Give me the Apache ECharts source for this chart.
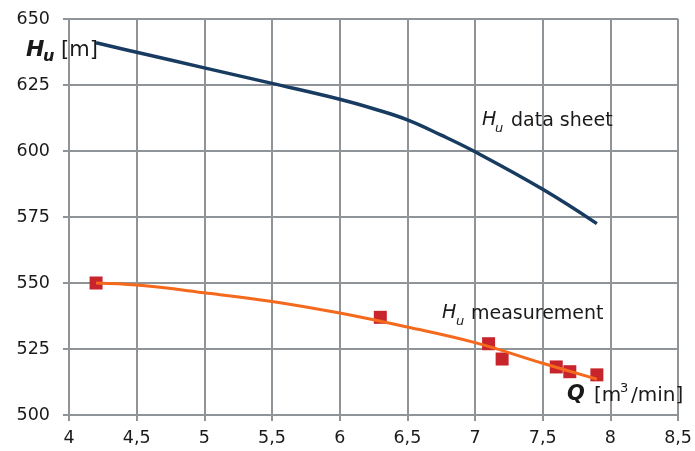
<!DOCTYPE html>
<html>
<head>
<meta charset="utf-8">
<script src="https://cdn.jsdelivr.net/npm/echarts@6/dist/echarts.min.js"></script>
<style>
  html, body { margin: 0; padding: 0; background: #fff; }
  #chart { width: 695px; height: 451px; }
</style>
</head>
<body>
<div id="chart"></div>
<script>
// datasheet curve H_u(Q)
const sheetQ = [4.2, 4.5, 5, 5.5, 6, 6.25, 6.5, 6.75, 7, 7.5, 7.9]
const sheetH = [641, 637.4, 631.5, 625.6, 619.6, 616, 611.8, 606, 599.7, 585.5, 572.5]

// measured points
const measQ = [4.2, 6.3, 7.1, 7.2, 7.6, 7.7, 7.9]
const measH = [550, 537, 527, 521.2, 518.2, 516.4, 515.2]

// trend line through the measurements
const trendQ = [4.2, 4.5, 5, 5.5, 6, 6.5, 7, 7.5, 7.9]
const trendH = [550, 549.2, 546.3, 543, 538.6, 533.3, 527.4, 519.6, 513.6]

const gridColor = '#8f9499'
const textColor = '#1a1a1a'
const font = 'DejaVu Sans'

const chart = echarts.init(document.getElementById('chart'))

function zip(xs, ys) {
  return xs.map((x, i) => [x, ys[i]])
}

function label(x, y, text, size, opts) {
  return {
    type: 'text',
    x: x,
    y: y,
    z: 100,
    style: Object.assign({
      text: text,
      fontFamily: font,
      fontSize: size,
      fill: textColor,
      align: 'left',
      verticalAlign: 'middle'
    }, opts || {})
  }
}

const option = {
  animation: false,
  backgroundColor: '#fff',
  grid: { left: 69, right: 14, top: 19, bottom: 36 },
  xAxis: {
    type: 'value',
    min: 4,
    max: 8.5,
    interval: 0.5,
    axisLine: { show: true, lineStyle: { color: gridColor, width: 2 } },
    axisTick: { show: true, length: 6, lineStyle: { color: gridColor, width: 2 } },
    splitLine: { show: true, lineStyle: { color: gridColor, width: 2 } },
    axisLabel: {
      margin: 14,
      color: textColor,
      fontFamily: font,
      fontSize: 17.5,
      formatter: v => String(v).replace('.', ',')
    }
  },
  yAxis: {
    type: 'value',
    min: 500,
    max: 650,
    interval: 25,
    axisLine: { show: true, lineStyle: { color: gridColor, width: 2 } },
    axisTick: { show: true, length: 6, lineStyle: { color: gridColor, width: 2 } },
    splitLine: { show: true, lineStyle: { color: gridColor, width: 2 } },
    axisLabel: {
      margin: 19,
      color: textColor,
      fontFamily: font,
      fontSize: 17.5
    }
  },
  series: [
    {
      name: 'Hu data sheet',
      type: 'line',
      data: zip(sheetQ, sheetH),
      smooth: 0.4,
      showSymbol: false,
      lineStyle: { color: '#183b61', width: 3.5 },
      z: 3
    },
    {
      name: 'Hu measurement',
      type: 'scatter',
      data: zip(measQ, measH),
      symbol: 'rect',
      symbolSize: 13,
      itemStyle: { color: '#c8242c', opacity: 1 },
      z: 2
    },
    {
      name: 'trend',
      type: 'line',
      data: zip(trendQ, trendH),
      smooth: 0.4,
      showSymbol: false,
      lineStyle: { color: '#f5691c', width: 3 },
      z: 4
    }
  ],
  graphic: [
    // y axis title
    label(26, 50, 'H', 22, { fontWeight: 'bold', fontStyle: 'italic' }),
    label(43, 57, 'u', 16, { fontWeight: 'bold', fontStyle: 'italic' }),
    label(61, 51, '[m]', 21),
    // x axis title
    label(567, 395, 'Q', 21, { fontWeight: 'bold', fontStyle: 'italic' }),
    label(594, 396, '[m', 20),
    label(620, 389, '3', 13),
    label(631, 396, '/min]', 20),
    // series labels
    label(482, 120, 'H', 19, { fontStyle: 'italic' }),
    label(495, 129, 'u', 13, { fontStyle: 'italic' }),
    label(511, 121, 'data sheet', 19),
    label(442, 313, 'H', 19, { fontStyle: 'italic' }),
    label(456, 322, 'u', 13, { fontStyle: 'italic' }),
    label(471, 314, 'measurement', 19)
  ]
}

chart.setOption(option)
window.addEventListener('resize', () => chart.resize())
</script>
</body>
</html>
